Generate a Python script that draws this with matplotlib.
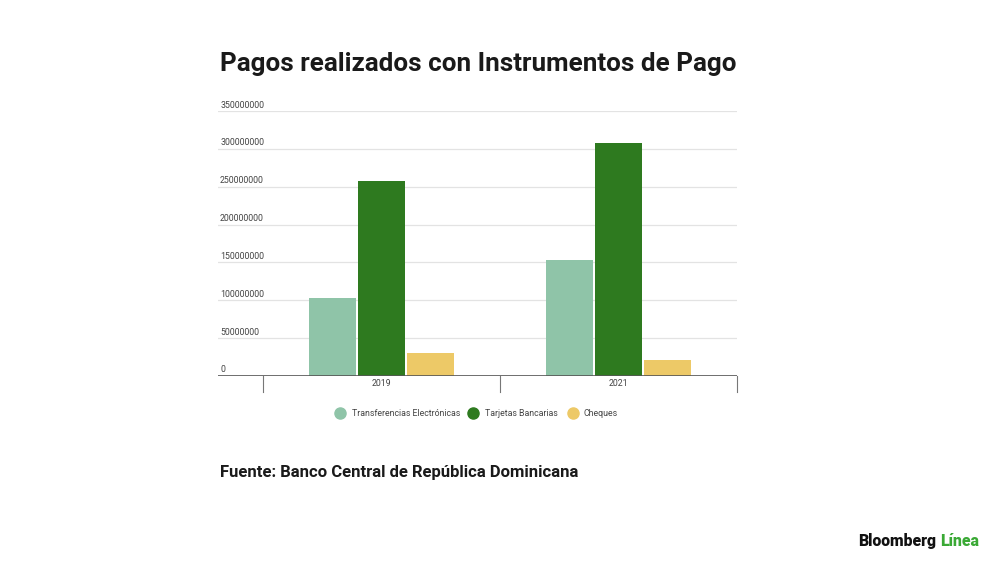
import matplotlib
matplotlib.use("Agg")
import matplotlib.pyplot as plt
from matplotlib.lines import Line2D
import matplotlib.transforms as mtransforms

years = ["2019", "2021"]
series_names = ["Transferencias Electrónicas", "Tarjetas Bancarias", "Cheques"]
transferencias = [103000000, 153000000]
tarjetas = [257000000, 308000000]
cheques = [30000000, 21000000]
y_ticks = [0, 50000000, 100000000, 150000000, 200000000, 250000000, 300000000, 350000000]

colors = ["#8fc4a8", "#2e7a1f", "#edc967"]
series = [transferencias, tarjetas, cheques]

plt.rcParams['font.family'] = ['Roboto', 'DejaVu Sans']

W, H = 1000, 562
fig = plt.figure(figsize=(10, 5.62), dpi=100)
fig.patch.set_facecolor("white")

left_px, right_px, bottom_px, top_px = 218, 737, 376, 111
ax = fig.add_axes([left_px / W, (H - bottom_px) / H, (right_px - left_px) / W, (bottom_px - top_px) / H])
ax.set_facecolor("white")

bw = 0.198
offs = [-0.206, 0.0, 0.206]
xs = list(range(len(years)))
for s, vals, c, o in zip(series_names, series, colors, offs):
    ax.bar([x + o for x in xs], vals, width=bw, color=c, zorder=3, linewidth=0)

ax.set_xlim(-0.69, 1.5)
ax.set_ylim(0, 350000000)
for sp in ax.spines.values():
    sp.set_visible(False)
ax.set_xticks([])
ax.set_yticks([])

for v in y_ticks[1:]:
    ax.axhline(v, color="#e3e3e3", linewidth=0.9, zorder=1)
ax.axhline(0, color="#555555", linewidth=1.2, zorder=4)

small = 6.3
# y labels above gridlines
off = mtransforms.offset_copy(ax.get_yaxis_transform(), fig=fig, x=0, y=1.5, units='dots')
for v in y_ticks:
    ax.text(0.004, v, f"{v}", transform=off, ha="left", va="bottom", fontsize=small, color="#444444")

# category boundary ticks
trans = ax.get_xaxis_transform()
for b in [-0.5, 0.5, 1.5]:
    ax.add_line(Line2D([b, b], [0, -16 / (bottom_px - top_px)], transform=trans, color="#777777",
                       linewidth=0.8, clip_on=False))
for x, y in zip(xs, years):
    ax.text(x, -7.5 / (bottom_px - top_px), y, transform=trans, ha="center", va="center",
            fontsize=small, color="#444444")

# title
fig.text(220 / W, 1 - 64 / H, "Pagos realizados con Instrumentos de Pago", fontsize=18.7,
         fontweight="bold", color="#1a1a1a", ha="left", va="center")

# legend
leg_y = 1 - 413 / H
items = [(340, 352), (473, 485), (573, 584)]
for (cx, tx), name, c in zip(items, series_names, colors):
    fig.add_artist(Line2D([cx / W], [leg_y], marker="o", markersize=8, color=c, linestyle="none"))
    fig.text(tx / W, leg_y, name, fontsize=small, color="#444444", ha="left", va="center")

# source
fig.text(220 / W, 1 - 472 / H, "Fuente: Banco Central de República Dominicana", fontsize=12,
         fontweight="bold", color="#1a1a1a", ha="left", va="center")

# logo
t1 = fig.text(858 / W, 1 - 541 / H, "Bloomberg", fontsize=11.3, fontweight="heavy",
              color="#111111", ha="left", va="center")
fig.canvas.draw()
bb = t1.get_window_extent()
fig.text((bb.x1 + 4) / W, 1 - 541 / H, "Línea", fontsize=11.3, fontweight="heavy",
         color="#3aa935", ha="left", va="center")

fig.savefig("out.png", dpi=100, facecolor="white")
